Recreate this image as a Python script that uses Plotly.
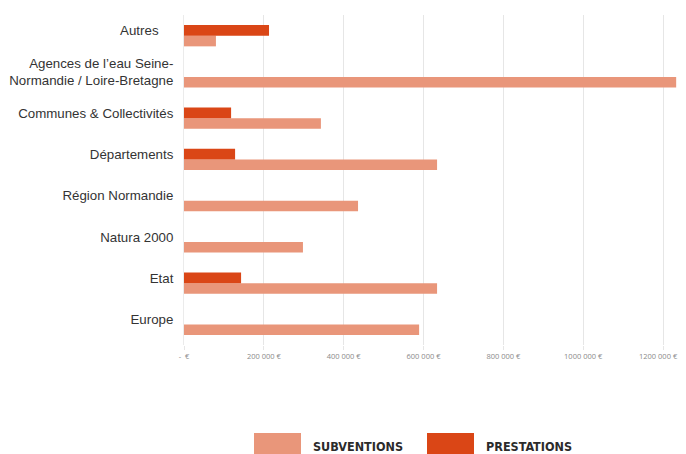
import plotly.graph_objects as go

# Data (bottom to top)
categories = ["Europe", "Etat", "Natura 2000", "Région Normandie", "Départements",
              "Communes & Collectivités",
              "Agences de l’eau Seine-<br>Normandie / Loire-Bretagne", "Autres"]
category_labels = ["Europe", "Etat", "Natura 2000", "Région Normandie", "Départements",
                   "Communes & Collectivités",
                   "Agences de l’eau Seine-<br>Normandie / Loire-Bretagne",
                   "Autres<span style='color:rgba(0,0,0,0)'>__</span>"]
subventions = [589000, 634000, 298000, 436000, 634000, 343000, 1233000, 80000]
prestations = [0, 143000, 0, 0, 128000, 118000, 0, 213000]
series_names = ["SUBVENTIONS", "PRESTATIONS"]
tick_values = [0, 200000, 400000, 600000, 800000, 1000000, 1200000]
tick_labels = ["-  €", "200 000 €", "400 000 €", "600 000 €", "800 000 €", "1000 000 €",
               "1200 000 €<span style='color:rgba(0,0,0,0)'>___</span>"]

COL_SUB = "#E9967A"
COL_PRE = "#DA4616"

# page has an 8px body margin; figure sized to fill the rest of the window
OFF = 8
W, H = 686 - OFF, 454 - OFF
ML, MR, MT, MB = 184 - OFF, 6, 15 - OFF, 454 - 345
PW, PH = W - ML - MR, H - MT - MB

def px_x(p):
    return (p - OFF - ML) / PW

def px_y(p):
    return (H - MB - (p - OFF)) / PH

fig = go.Figure()
fig.add_trace(go.Bar(y=categories, x=subventions, orientation="h", name=series_names[0],
                     marker=dict(color=COL_SUB, line=dict(width=0)), showlegend=False))
fig.add_trace(go.Bar(y=categories, x=prestations, orientation="h", name=series_names[1],
                     marker=dict(color=COL_PRE, line=dict(width=0)), showlegend=False))

fig.update_layout(
    width=W, height=H,
    margin=dict(l=ML, r=MR, t=MT, b=MB, autoexpand=False),
    barmode="group", bargap=0.48, bargroupgap=0,
    plot_bgcolor="white", paper_bgcolor="white",
    font=dict(family="Liberation Sans, Arial, sans-serif", color="#333333"),
)
fig.update_xaxes(range=[0, 1242600], tickvals=tick_values, ticktext=tick_labels,
                 showgrid=True, gridcolor="#E6E6E6", gridwidth=1, zeroline=False,
                 ticks="outside", ticklen=4, tickcolor="#E6E6E6", automargin=False,
                 ticklabeloverflow="allow",
                 tickfont=dict(family="Open Sans, sans-serif", size=7.5, color="#8a8a8a"),
                 showline=False, fixedrange=True)
fig.update_yaxes(tickmode="array", tickvals=categories, ticktext=category_labels,
                 showgrid=False, zeroline=False, showline=True, linecolor="#EBEBEB",
                 linewidth=1, ticks="", ticklabelstandoff=7, ticklabelshift=-5, automargin=False,
                 tickfont=dict(family="Liberation Sans, Arial, sans-serif", size=13.3, color="#333333"))

# Legend drawn manually (large swatches)
legend_items = [(series_names[0], COL_SUB, 254, 301, 313), (series_names[1], COL_PRE, 427, 474, 486)]
for name, col, x0, x1, tx in legend_items:
    fig.add_shape(type="rect", xref="paper", yref="paper",
                  x0=px_x(x0), x1=px_x(x1), y0=px_y(454), y1=px_y(433),
                  fillcolor=col, line=dict(width=0))
    fig.add_annotation(xref="paper", yref="paper", x=px_x(tx - 2), y=px_y(446),
                       xanchor="left", yanchor="middle", showarrow=False, text="<b>%s</b>" % name,
                       font=dict(family="DejaVu Sans Condensed, sans-serif",
                                 size=12.5, color="#2b2b2b"))

fig.write_html("out.html")
